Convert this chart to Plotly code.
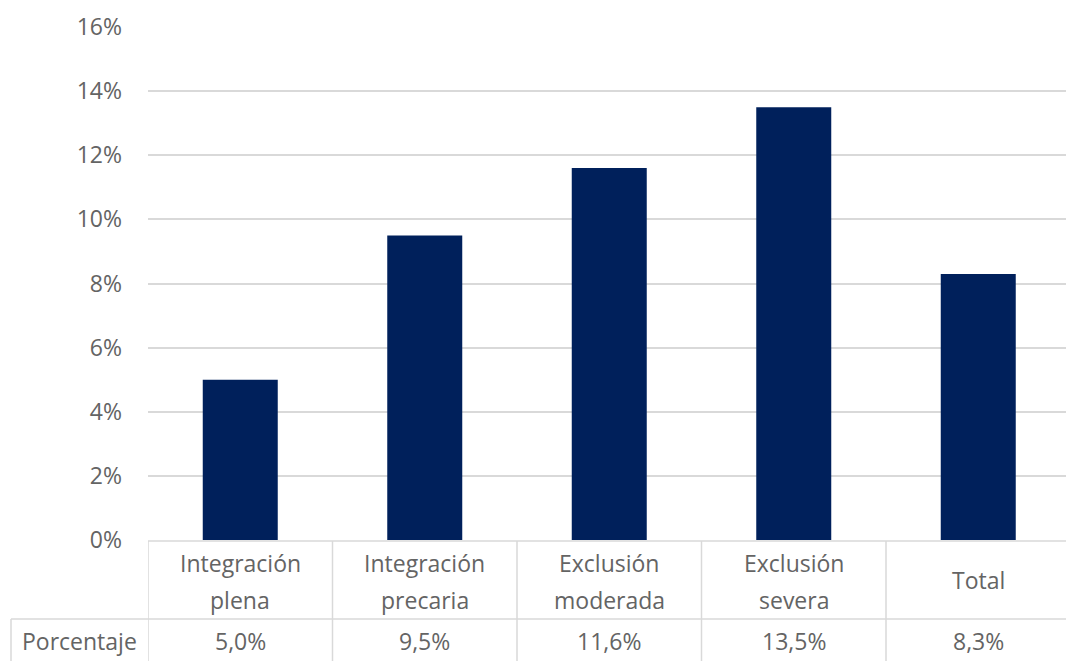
import plotly.graph_objects as go

# Data
categories = ["Integración plena", "Integración precaria", "Exclusión moderada", "Exclusión severa", "Total"]
header_lines = [["Integración", "plena"], ["Integración", "precaria"], ["Exclusión", "moderada"], ["Exclusión", "severa"], ["Total"]]
porcentaje = [5.0, 9.5, 11.6, 13.5, 8.3]
row_label = "Porcentaje"
y_ticks = [0, 2, 4, 6, 8, 10, 12, 14, 16]

W, H = 1066, 661
L, T, B = 148, 27, 121
plot_h = H - T - B
plot_w = W - L
col_w = 184.5  # pixel width of one category column

BAR = "#00205B"
GRID = "#d9d9d9"
TXT = "#646464"
FONT = "Open Sans, Noto Sans, sans-serif"
FS = 23


def py(pix):
    """pixel row -> paper y"""
    return (H - B - pix) / plot_h


def px(pix):
    """pixel column -> paper x"""
    return (pix - L) / plot_w


xs = list(range(len(categories)))

fig = go.Figure()
fig.add_trace(go.Bar(
    x=xs, y=porcentaje, marker=dict(color=BAR, line=dict(width=0)),
    hoverinfo="skip", showlegend=False,
))

shapes = []
line = dict(color=GRID, width=1.5)
# table borders
shapes.append(dict(type="line", xref="paper", yref="paper", x0=0, x1=1.01, y0=py(541), y1=py(541), line=line))
shapes.append(dict(type="line", xref="paper", yref="paper", x0=px(11), x1=1.01, y0=py(619), y1=py(619), line=line))
shapes.append(dict(type="line", xref="paper", yref="paper", x0=px(11), x1=px(11), y0=py(619), y1=py(H + 5), line=line))
for i in range(len(categories)):
    shapes.append(dict(type="line", xref="x", yref="paper", x0=i - 0.5, x1=i - 0.5,
                       y0=py(541), y1=py(H + 5), line=line))

annotations = []
tfont = dict(family=FONT, size=FS, color=TXT)
for i, lines in enumerate(header_lines):
    if len(lines) == 1:
        annotations.append(dict(x=i, y=py(580), xref="x", yref="paper", text=lines[0],
                                showarrow=False, font=tfont, xanchor="center", yanchor="middle"))
    else:
        for j, t in enumerate(lines):
            annotations.append(dict(x=i, y=py(563 + 37 * j), xref="x", yref="paper", text=t,
                                    showarrow=False, font=tfont, xanchor="center", yanchor="middle"))
    annotations.append(dict(x=i, y=py(641), xref="x", yref="paper",
                            text=f"{porcentaje[i]:.1f}%".replace(".", ","),
                            showarrow=False, font=tfont, xanchor="center", yanchor="middle"))
annotations.append(dict(x=px(79), y=py(641), xref="paper", yref="paper", text=row_label,
                        showarrow=False, font=tfont, xanchor="center", yanchor="middle"))

fig.update_layout(
    width=W, height=H,
    margin=dict(l=L, r=0, t=T, b=B, pad=0),
    paper_bgcolor="white", plot_bgcolor="white",
    bargap=1 - 75 / col_w,
    xaxis=dict(range=[-0.5, -0.5 + plot_w / col_w], showticklabels=False, showgrid=False,
               zeroline=False, showline=False, fixedrange=True),
    yaxis=dict(range=[0, 16], tickvals=y_ticks, ticktext=[f"{v}%" for v in y_ticks],
               showgrid=True, gridcolor=GRID, gridwidth=1.5, zeroline=False, showline=False,
               tickfont=dict(family=FONT, size=FS, color=TXT), ticklabelstandoff=25,
               fixedrange=True),
    shapes=shapes,
    annotations=annotations,
)

fig.write_html("out.html")
